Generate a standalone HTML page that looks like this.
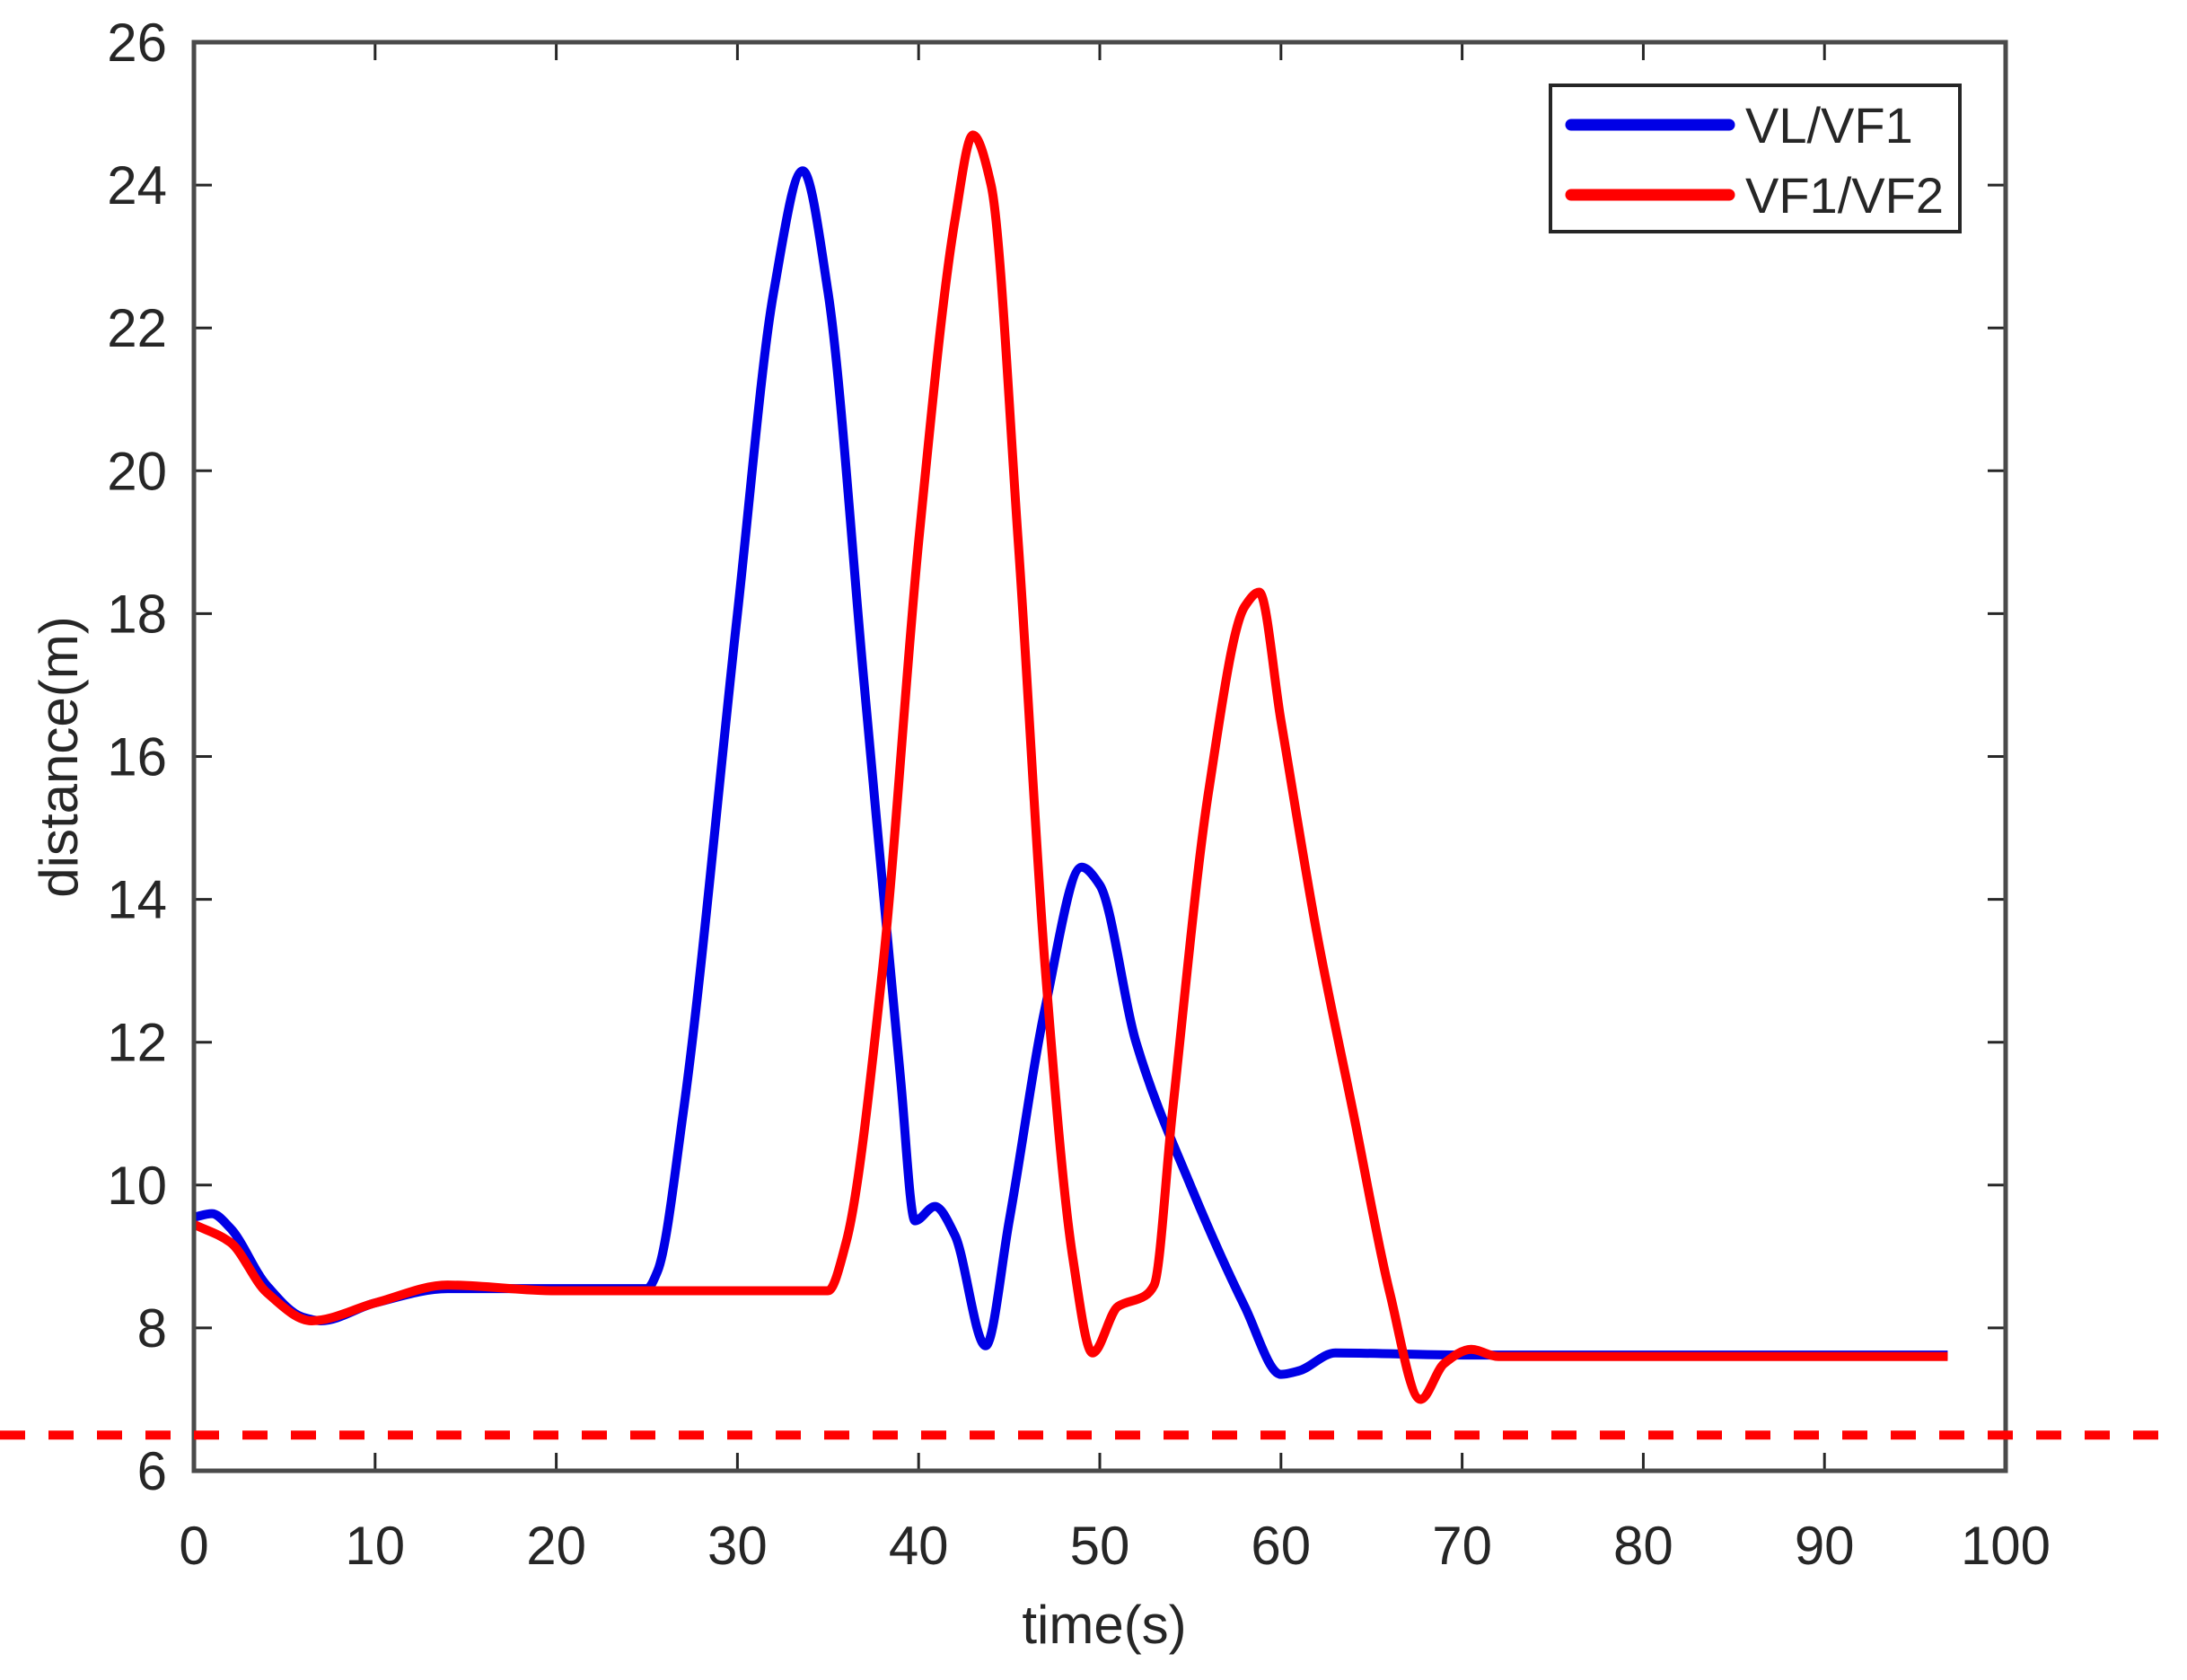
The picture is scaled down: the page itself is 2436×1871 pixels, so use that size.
<!DOCTYPE html>
<html><head><meta charset="utf-8"><style>
html,body{margin:0;padding:0;background:#fff;}
svg{display:block;font-family:"Liberation Sans",sans-serif;}
</style></head><body>
<svg id="chart" width="2436" height="1871" viewBox="0 0 2436 1871" xmlns="http://www.w3.org/2000/svg">
<rect x="0" y="0" width="2436" height="1871" fill="#fff"/>
<g id="plot"></g>
</svg>
<script>
const xTicks = [0,10,20,30,40,50,60,70,80,90,100];
const yTicks = [6,8,10,12,14,16,18,20,22,24,26];
const blueT = [0,1,2,4,6,7,10,14,20,25,25.6,27,30,32,33.6,35,37,39,39.8,40.9,42,43.7,45,47,49,50,52,55,58,60,61,63,70,96.8];
const blueV = [9.55,9.6,9.4,8.6,8.15,8.1,8.35,8.55,8.55,8.55,8.8,11,18,22.5,24.2,22.5,17,11.5,9.5,9.7,9.3,7.75,9.5,12.5,14.45,14.2,12,10,8.3,7.35,7.4,7.65,7.62,7.62];
const redT = [0,2,4,6.5,10,14,20,35,36,38,40,42,43,44,45.5,47,48.5,49.6,51,52.5,53,54,56,58,58.8,60,62,64,66,67.7,69,70.5,72,96.8];
const redV = [9.45,9.2,8.5,8.1,8.35,8.6,8.52,8.52,9.2,13,19,23.5,24.7,24,19,13,9,7.65,8.3,8.45,8.6,11,15.5,18.1,18.3,16.5,13.5,11,8.5,7.0,7.5,7.7,7.6,7.6];
const thresholdValue = [6.5];
const seriesNames = ["VL/VF1","VF1/VF2"];

const L=216,R=2234,T=47,B=1638;
const xS=v=>L+(v-0)/(100-0)*(R-L);
const yS=v=>B-(v-6)/(26-6)*(B-T);
const NS="http://www.w3.org/2000/svg";
const g=document.getElementById('plot');
function mk(tag,attrs,parent){const e=document.createElementNS(NS,tag);for(const k in attrs)e.setAttribute(k,attrs[k]);(parent||g).appendChild(e);return e;}
function pathFrom(ts,vs){
  const x=ts.map(xS),y=vs.map(yS),n=x.length;
  const d=[],m=new Array(n);
  for(let i=0;i<n-1;i++)d.push((y[i+1]-y[i])/(x[i+1]-x[i]));
  m[0]=d[0];m[n-1]=d[n-2];
  for(let i=1;i<n-1;i++){
    if(d[i-1]*d[i]<=0)m[i]=0;
    else{const h0=x[i]-x[i-1],h1=x[i+1]-x[i];const w1=2*h1+h0,w2=h1+2*h0;m[i]=(w1+w2)/(w1/d[i-1]+w2/d[i]);}
  }
  let s=`M${x[0]},${y[0]}`;
  for(let i=0;i<n-1;i++){
    const h=(x[i+1]-x[i])/3;
    s+=` C${x[i]+h},${y[i]+m[i]*h} ${x[i+1]-h},${y[i+1]-m[i+1]*h} ${x[i+1]},${y[i+1]}`;
  }
  return s;
}
xTicks.forEach(v=>{
  const x=xS(v);
  let t=mk('line',{x1:x,y1:B,x2:x,y2:B-20,stroke:'#262626','stroke-width':3});
  
  
  t=mk('line',{x1:x,y1:T,x2:x,y2:T+20,stroke:'#262626','stroke-width':3});
  
  
  const lb=mk('text',{x:x,y:1742,'text-anchor':'middle','font-size':60,fill:'#262626'});
  lb.textContent=v;
  
  
});
yTicks.forEach(v=>{
  const y=yS(v);
  let t=mk('line',{x1:L,y1:y,x2:L+20,y2:y,stroke:'#262626','stroke-width':3});
  
  
  t=mk('line',{x1:R,y1:y,x2:R-20,y2:y,stroke:'#262626','stroke-width':3});
  
  
  const lb=mk('text',{x:186,y:y+21,'text-anchor':'end','font-size':60,fill:'#262626'});
  lb.textContent=v;
  
  
});
const pb=mk('path',{d:pathFrom(blueT,blueV),fill:'none',stroke:'#0000e6','stroke-width':10,'stroke-linejoin':'round'});


const pr=mk('path',{d:pathFrom(redT,redV),fill:'none',stroke:'#ff0000','stroke-width':10,'stroke-linejoin':'round'});


const box=mk('rect',{x:L,y:T,width:R-L,height:B-T,fill:'none',stroke:'#4a4a4a','stroke-width':5});


const th=mk('line',{x1:0,y1:yS(thresholdValue[0]),x2:2404,y2:yS(thresholdValue[0]),stroke:'#ff0000','stroke-width':10,'stroke-dasharray':'28 26'});


const xt=mk('text',{x:1230,y:1830,'text-anchor':'middle','font-size':60,fill:'#262626'});
xt.textContent='time(s)';


const yt=mk('text',{x:0,y:0,'text-anchor':'middle','font-size':60,fill:'#262626',transform:'translate(86,843) rotate(-90)'});
yt.textContent='distance(m)';


const lg=mk('g',{});


mk('rect',{x:1727,y:95,width:456,height:163,fill:'#fff',stroke:'#262626','stroke-width':4},lg);
[['#0000e6',139],['#ff0000',217]].forEach((c,i)=>{
  const ln=mk('line',{x1:1750,y1:c[1],x2:1926,y2:c[1],stroke:c[0],'stroke-width':13,'stroke-linecap':'round'},lg);
  
  
  const tx=mk('text',{x:1944,y:c[1]+20,'font-size':56,fill:'#262626'},lg);
  tx.textContent=seriesNames[i];
  
  
});
</script>
</body></html>
